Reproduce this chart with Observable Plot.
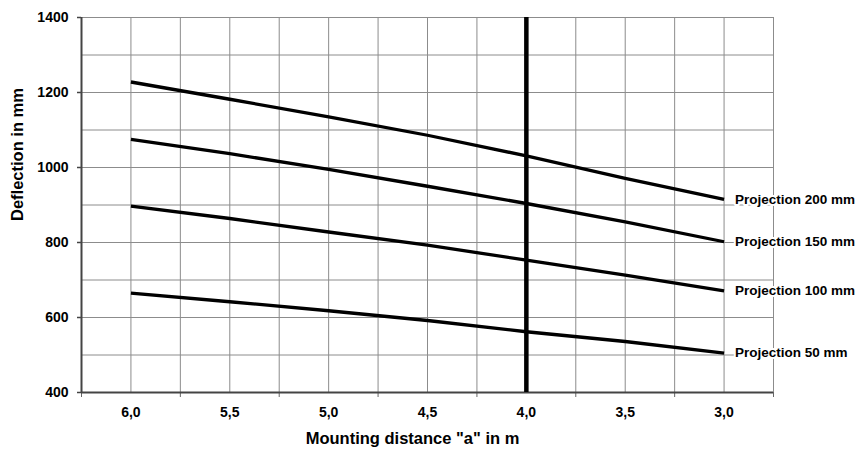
<!DOCTYPE html>
<html>
<head>
<meta charset="utf-8">
<script src="https://cdn.jsdelivr.net/npm/d3@7"></script>
<script src="https://cdn.jsdelivr.net/npm/@observablehq/plot@0.6"></script>
<style>
  html, body { margin: 0; padding: 0; background: #fff; }
  #chart svg { display: block; }
</style>
</head>
<body>
<div id="chart"></div>
<script>
// Mounting distance "a" in m (categories along x, reversed)
const distances = [6.0, 5.5, 5.0, 4.5, 4.0, 3.5, 3.0];
// Deflection in mm per projection
const proj200 = [1228, 1182, 1135, 1086, 1031, 971, 915];
const proj150 = [1075, 1037, 995, 950, 904, 855, 802];
const proj100 = [897, 864, 828, 793, 753, 713, 671];
const proj50  = [665, 642, 618, 592, 562, 536, 505];
const seriesNames = ["Projection 200 mm", "Projection 150 mm", "Projection 100 mm", "Projection 50 mm"];
const seriesValues = [proj200, proj150, proj100, proj50];

// Marker at 4,0 m
const markerDistance = [4.0];

// Axes / ticks
const xDomain = [6.25, 2.75];
const xLabelTicks = [6.0, 5.5, 5.0, 4.5, 4.0, 3.5, 3.0];
const xMinorTicks = [6.25, 5.75, 5.25, 4.75, 4.25, 3.75, 3.25, 2.75];
const xGrid = [6.0, 5.75, 5.5, 5.25, 5.0, 4.75, 4.5, 4.25, 4.0, 3.75, 3.5, 3.25, 3.0, 2.75];
const yDomain = [400, 1400];
const yLabelTicks = [400, 600, 800, 1000, 1200, 1400];
const yGrid = [500, 600, 700, 800, 900, 1000, 1100, 1200, 1300, 1400];

const xTitle = 'Mounting distance "a" in m';
const yTitle = "Deflection in mm";

// tidy table built from the arrays
const rows = [];
seriesNames.forEach((name, i) => {
  distances.forEach((d, j) => rows.push({series: name, a: d, deflection: seriesValues[i][j]}));
});
const endRows = seriesNames.map((name, i) => ({
  series: name,
  a: distances[distances.length - 1],
  deflection: seriesValues[i][seriesValues[i].length - 1]
}));

const fmt = d => d3.format(".1f")(d).replace(".", ",");

const chart = Plot.plot({
  width: 856,
  height: 451,
  marginLeft: 81,
  marginRight: 83,
  marginTop: 17,
  marginBottom: 59,
  style: {fontFamily: "'Liberation Sans', Arial, sans-serif", color: "#000", background: "#fff"},
  x: {type: "linear", domain: xDomain},
  y: {type: "linear", domain: yDomain},
  marks: [
    Plot.gridX(xGrid, {stroke: "#8c8c8c", strokeOpacity: 1, strokeWidth: 1}),
    Plot.gridY(yGrid, {stroke: "#8c8c8c", strokeOpacity: 1, strokeWidth: 1}),
    Plot.axisY(yLabelTicks, {
      tickSize: 4, tickPadding: 9, tickFormat: d => String(d),
      fontSize: 14, fontWeight: "bold", stroke: "#444", strokeWidth: 1.5, fill: "#000", label: null
    }),
    Plot.axisX(xMinorTicks, {
      tickSize: 5, tickFormat: () => "", stroke: "#666", label: null
    }),
    Plot.axisX(xLabelTicks, {
      tickSize: 0, tickPadding: 15, tickFormat: fmt,
      fontSize: 14, fontWeight: "bold", fill: "#000", label: null
    }),
    Plot.ruleX([xDomain[0]], {stroke: "#444", strokeWidth: 2}),
    Plot.ruleY([yDomain[0]], {stroke: "#444", strokeWidth: 2}),
    Plot.line(rows, {x: "a", y: "deflection", z: "series", stroke: "#000", strokeWidth: 3.3, strokeLinecap: "butt"}),
    Plot.ruleX(markerDistance, {stroke: "#000", strokeWidth: 4.5}),
    Plot.text(endRows, {
      x: "a", y: "deflection", text: "series", dx: 11, textAnchor: "start",
      fontSize: 13.5, fontWeight: "bold", fill: "#000", stroke: "#fff", strokeWidth: 4
    }),
    Plot.text([yTitle], {
      text: d => d, frameAnchor: "left", rotate: -90, dx: -64, dy: 16,
      fontSize: 16.5, fontWeight: "bold", fill: "#000"
    }),
    Plot.text([xTitle], {
      text: d => d, frameAnchor: "bottom", dx: -15, dy: 51,
      fontSize: 16.5, fontWeight: "bold", fill: "#000"
    })
  ]
});
document.getElementById("chart").appendChild(chart);
</script>
</body>
</html>
